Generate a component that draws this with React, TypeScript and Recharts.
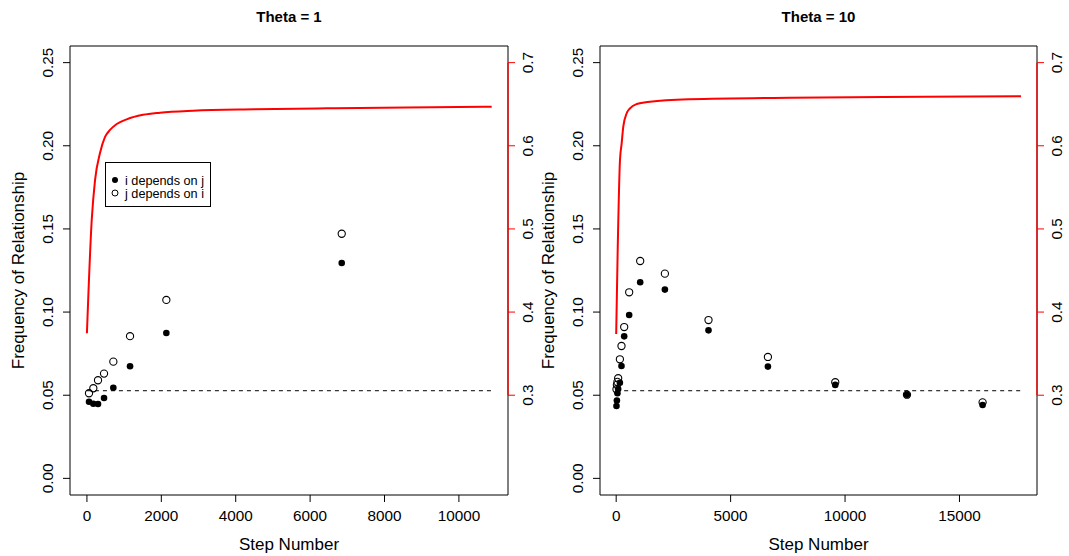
import React from 'react';
import { ComposedChart, XAxis, YAxis, Scatter, Line, ReferenceArea, ReferenceLine } from 'recharts';

const FONT = '"Liberation Sans", Arial, Helvetica, sans-serif';

// ---- Theta = 1 ----
const t1Steps = [56, 172, 298, 460, 710, 1159, 2135, 6850];
const t1IdependsJ = [0.0461, 0.0449, 0.0447, 0.0483, 0.0545, 0.0674, 0.0874, 0.1295];
const t1JdependsI = [0.0512, 0.0542, 0.059, 0.063, 0.0702, 0.0855, 0.1073, 0.1471];
const t1CurveSteps = [0, 129, 218, 352, 487, 621, 801, 1070, 1508, 1965, 2852, 4500, 6447, 8600, 10882];
const t1CurveValues = [0.3745, 0.5107, 0.5588, 0.5913, 0.6106, 0.619, 0.6262, 0.6318, 0.6372, 0.6398, 0.6422, 0.6439, 0.6451, 0.6461, 0.647];
const t1XTicks = [0, 2000, 4000, 6000, 8000, 10000];
const t1XDomain = [-455, 11320];

// ---- Theta = 10 ----
const t10Steps = [13, 31, 55, 87, 162, 232, 350, 568, 1049, 2128, 4034, 6630, 9572, 12705, 16010];
const t10IdependsJ = [0.0435, 0.0468, 0.0512, 0.0537, 0.0575, 0.0676, 0.0854, 0.0982, 0.1179, 0.1135, 0.089, 0.0672, 0.0562, 0.0503, 0.0441];
const t10JdependsI = [0.0536, 0.0562, 0.058, 0.0602, 0.0716, 0.0796, 0.091, 0.1119, 0.1307, 0.1231, 0.0952, 0.073, 0.0578, 0.0503, 0.0457];
const t10CurveSteps = [0, 66, 166, 240, 310, 459, 603, 896, 1477, 3225, 7594, 13405, 17687];
const t10CurveValues = [0.3736, 0.4747, 0.5829, 0.603, 0.623, 0.6391, 0.6451, 0.6502, 0.653, 0.6559, 0.6578, 0.659, 0.6595];
const t10XTicks = [0, 5000, 10000, 15000];
const t10XDomain = [-707, 18387];

const baselineFreq = 0.0527;
const leftTicks = [0, 0.05, 0.1, 0.15, 0.2, 0.25];
const rightTicks = [0.3, 0.4, 0.5, 0.6, 0.7];
const leftDomain = [-0.01, 0.26];
const rightDomain = [0.18, 0.72];

const TICK_FS = 15.3;
const LAB_FS = 17;

const RotTick = (digits: number) => (props: any) => {
  const { x, y, payload } = props;
  return (
    <text
      x={x}
      y={y}
      transform={`rotate(-90 ${x} ${y})`}
      textAnchor="middle"
      dominantBaseline="central"
      fontSize={TICK_FS}
      fontFamily={FONT}
      fill="#000"
      stroke="none"
    >
      {Number(payload.value).toFixed(digits)}
    </text>
  );
};

const FilledDot = (props: any) => <circle cx={props.cx} cy={props.cy} r={3.3} fill="#000" />;
const OpenDot = (props: any) => <circle cx={props.cx} cy={props.cy} r={3.6} fill="none" stroke="#000" strokeWidth={1.1} />;

type PanelProps = {
  title: string;
  steps: number[];
  filled: number[];
  open: number[];
  curveSteps: number[];
  curveValues: number[];
  xTicks: number[];
  xDomain: number[];
  left: number;
  width: number;
  leftAxisW: number;
  rightAxisW: number;
  legend?: boolean;
};

const Panel = (p: PanelProps) => {
  const filledData = p.steps.map((s, i) => ({ x: s, y: p.filled[i] }));
  const openData = p.steps.map((s, i) => ({ x: s, y: p.open[i] }));
  const curveData = p.curveSteps.map((s, i) => ({ x: s, y: p.curveValues[i] }));
  const lastStep = p.curveSteps[p.curveSteps.length - 1];
  const baseData = [
    { x: 0, y: baselineFreq },
    { x: lastStep, y: baselineFreq },
  ];
  const H = 556;
  const top = 46;
  const plotH = 449;
  const plotL = p.leftAxisW;
  const plotR = p.width - p.rightAxisW;
  const cx = (plotL + plotR) / 2;
  return (
    <div style={{ position: 'absolute', left: p.left, top: 0, width: p.width, height: H }}>
      <ComposedChart width={p.width} height={H} margin={{ top: top, right: 0, bottom: 0, left: 0 }}>
        <XAxis
          xAxisId="x"
          type="number"
          dataKey="x"
          domain={p.xDomain}
          ticks={p.xTicks}
          allowDataOverflow
          height={H - top - plotH}
          axisLine={false}
          tickSize={7}
          tickMargin={8}
          tickLine={{ stroke: '#000' }}
          tick={{ fill: '#000', fontSize: TICK_FS, fontFamily: FONT }}
          interval={0}
        />
        <YAxis
          yAxisId="L"
          orientation="left"
          type="number"
          dataKey="y"
          domain={leftDomain}
          ticks={leftTicks}
          allowDataOverflow
          width={p.leftAxisW}
          axisLine={false}
          tickSize={7}
          tickMargin={15}
          tickLine={{ stroke: '#000' }}
          tick={RotTick(2)}
          interval={0}
        />
        <YAxis
          yAxisId="R"
          orientation="right"
          type="number"
          dataKey="y"
          domain={rightDomain}
          ticks={rightTicks}
          allowDataOverflow
          width={p.rightAxisW}
          axisLine={false}
          stroke="#000"
          tickSize={7}
          tickMargin={13}
          tickLine={{ stroke: 'red' }}
          tick={RotTick(1)}
          interval={0}
        />
        <ReferenceArea
          xAxisId="x"
          yAxisId="L"
          x1={p.xDomain[0]}
          x2={p.xDomain[1]}
          y1={leftDomain[0]}
          y2={leftDomain[1]}
          fill="none"
          fillOpacity={0}
          stroke="#000"
          strokeWidth={1}
          ifOverflow="visible"
        />
        <ReferenceLine
          xAxisId="x"
          yAxisId="R"
          segment={[
            { x: p.xDomain[1], y: 0.3 },
            { x: p.xDomain[1], y: 0.7 },
          ]}
          stroke="red"
          strokeWidth={1.3}
          ifOverflow="visible"
        />
        <Line
          xAxisId="x"
          yAxisId="L"
          data={baseData}
          dataKey="y"
          type="linear"
          stroke="#000"
          strokeWidth={1}
          strokeDasharray="4 4"
          dot={false}
          activeDot={false}
          isAnimationActive={false}
        />
        <Scatter xAxisId="x" yAxisId="L" data={filledData} shape={FilledDot} isAnimationActive={false} />
        <Scatter xAxisId="x" yAxisId="L" data={openData} shape={OpenDot} isAnimationActive={false} />
        <Line
          xAxisId="x"
          yAxisId="R"
          data={curveData}
          dataKey="y"
          type="monotone"
          stroke="#ff0000"
          strokeWidth={2}
          dot={false}
          activeDot={false}
          isAnimationActive={false}
        />
      </ComposedChart>
      <svg width={p.width} height={H} style={{ position: 'absolute', left: 0, top: 0, pointerEvents: 'none' }}>
        <text x={cx} y={22} textAnchor="middle" fontSize={15} fontWeight="bold" fontFamily={FONT} fill="#000">
          {p.title}
        </text>
        <text x={cx} y={550} textAnchor="middle" fontSize={LAB_FS} fontFamily={FONT} fill="#000">
          Step Number
        </text>
        <text
          x={plotL - 52}
          y={top + plotH / 2}
          transform={`rotate(-90 ${plotL - 52} ${top + plotH / 2})`}
          textAnchor="middle"
          dominantBaseline="central"
          fontSize={LAB_FS}
          fontFamily={FONT}
          fill="#000"
        >
          Frequency of Relationship
        </text>
        {p.legend && (
          <g fontFamily={FONT} fontSize={12.7}>
            <rect x={105.5} y={162.5} width={105} height={44} fill="none" stroke="#000" strokeWidth={1} />
            <circle cx={115} cy={180} r={3} fill="#000" />
            <text x={125} y={184.5} fill="#000">i depends on j</text>
            <circle cx={115} cy={193} r={3} fill="none" stroke="#000" strokeWidth={1} />
            <text x={125} y={197.5} fill="#000">j depends on i</text>
          </g>
        )}
      </svg>
    </div>
  );
}

export default function App() {
  return (
    <div style={{ position: 'absolute', left: 0, top: 0, width: 1069, height: 556, background: '#fff' }}>
      <Panel
        title="Theta = 1"
        steps={t1Steps}
        filled={t1IdependsJ}
        open={t1JdependsI}
        curveSteps={t1CurveSteps}
        curveValues={t1CurveValues}
        xTicks={t1XTicks}
        xDomain={t1XDomain}
        left={0}
        width={536}
        leftAxisW={70}
        rightAxisW={28}
        legend
      />
      <Panel
        title="Theta = 10"
        steps={t10Steps}
        filled={t10IdependsJ}
        open={t10JdependsI}
        curveSteps={t10CurveSteps}
        curveValues={t10CurveValues}
        xTicks={t10XTicks}
        xDomain={t10XDomain}
        left={536}
        width={533}
        leftAxisW={64}
        rightAxisW={32}
      />
    </div>
  );
}
